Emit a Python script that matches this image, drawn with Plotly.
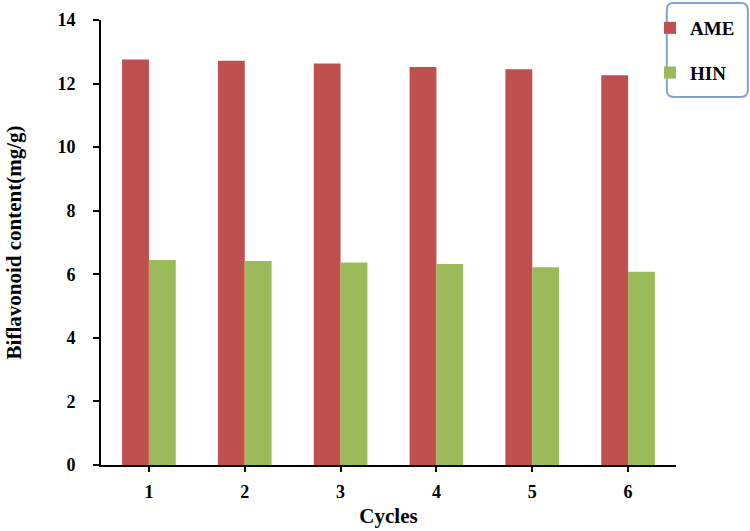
import plotly.graph_objects as go

cycles = ["1", "2", "3", "4", "5", "6"]
ame = [12.76, 12.72, 12.63, 12.52, 12.45, 12.26]
hin = [6.45, 6.42, 6.37, 6.32, 6.22, 6.08]
y_ticks = [0, 2, 4, 6, 8, 10, 12, 14]

FONT = "Liberation Serif"

fig = go.Figure()
fig.add_trace(go.Bar(x=cycles, y=ame, name="AME", marker_color="#c0504d",
                     marker_line_width=0, legendgroup="a"))
fig.add_trace(go.Bar(x=cycles, y=hin, name="HIN", marker_color="#9bbb59",
                     marker_line_width=0, legendgroup="b"))

# rounded legend border
x0, x1, y0, y1, r = 0.984, 1.125, 0.827, 1.038, 0.012
ry = r * 575 / 445
path = (f"M {x0+r},{y1} L {x1-r},{y1} Q {x1},{y1} {x1},{y1-ry} "
        f"L {x1},{y0+ry} Q {x1},{y0} {x1-r},{y0} L {x0+r},{y0} "
        f"Q {x0},{y0} {x0},{y0+ry} L {x0},{y1-ry} Q {x0},{y1} {x0+r},{y1} Z")

tick_font = dict(family=FONT, size=18, color="black", weight="bold")
title_font = dict(family=FONT, size=21, color="black", weight="bold")

fig.update_layout(
    width=750, height=531,
    margin=dict(l=101, r=74, t=20, b=66, autoexpand=False),
    paper_bgcolor="white", plot_bgcolor="white",
    barmode="group", bargap=0.44, bargroupgap=0,
    font=dict(family=FONT, size=17, color="black", weight="bold"),
    showlegend=True,
    legend=dict(x=0.9548, y=1.0247, xanchor="left", yanchor="top",
                bgcolor="rgba(0,0,0,0)", borderwidth=0,
                tracegroupgap=17, traceorder="grouped",
                font=dict(family=FONT, size=19, color="black", weight="bold")),
    shapes=[dict(type="path", path=path, xref="paper", yref="paper",
                 line=dict(color="#7ea3d4", width=2))],
    xaxis=dict(showline=True, linecolor="black", linewidth=2, ticks="outside",
               ticklen=5, tickwidth=2, tickcolor="black", range=[-0.5, 5.5],
               tickfont=tick_font, ticklabelstandoff=4,
               title=dict(text="Cycles", font=title_font, standoff=8),
               showgrid=False),
    yaxis=dict(showline=True, linecolor="black", linewidth=2, ticks="outside",
               ticklen=6, tickwidth=2, tickcolor="black", range=[0, 14],
               tickvals=y_ticks, showgrid=False, zeroline=False,
               tickfont=tick_font, ticklabelstandoff=14,
               title=dict(text="Biflavonoid content(mg/g)", font=title_font, standoff=30)),
)

fig.write_html("out.html", config={"displayModeBar": False},
               post_script="document.body.style.margin='0';")
